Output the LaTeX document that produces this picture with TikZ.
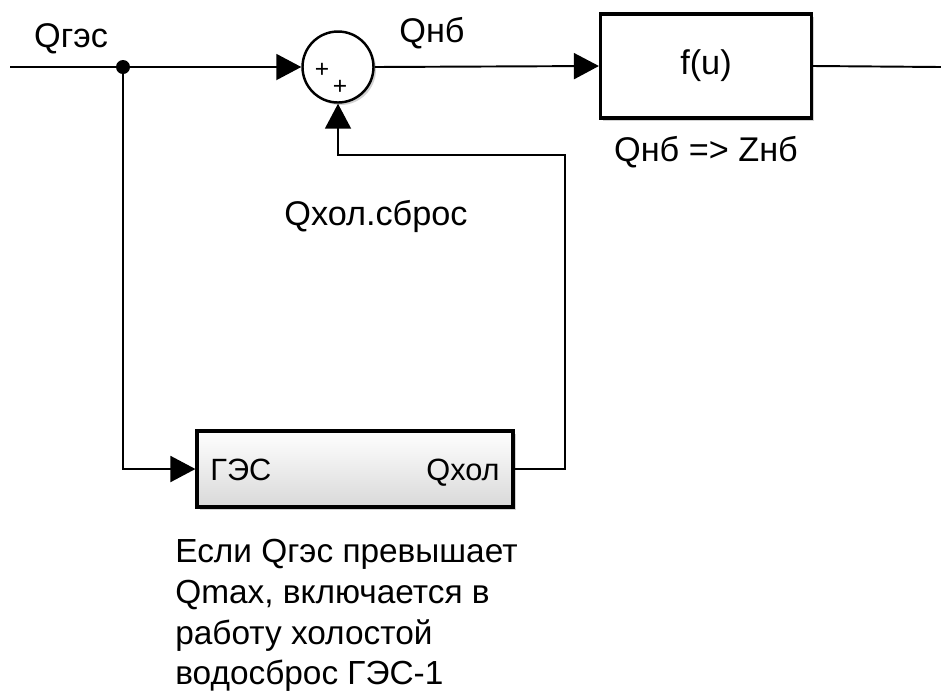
\documentclass[tikz,border=0pt]{standalone}
\usepackage{fontspec}
\setmainfont{Liberation Sans}
\usetikzlibrary{arrows.meta, positioning, shadows, calc}

\begin{document}
\begin{tikzpicture}[x=0.2mm, y=-0.2mm, font=\fontsize{19.5}{23.2}\selectfont,
    sig/.style={line width=1.1pt},
    arrow/.style={sig, -{Triangle[length=5mm, width=5.2mm]}},
    shd/.style={drop shadow={shadow xshift=0.5mm, shadow yshift=-0.5mm, fill=black!35, opacity=0.5}},
    sumop/.style={draw, circle, line width=1.4pt, fill=white, minimum size=14.2mm, inner sep=0pt, shd},
    blk/.style={draw, line width=1.8pt, fill=white, minimum width=42.2mm, minimum height=20.8mm, shd},
    subsys/.style={draw, line width=1.8pt, top color=white, bottom color=black!15, minimum width=63.2mm, minimum height=15.2mm, shd},
    lbl/.style={anchor=base, inner sep=0pt},
    port/.style={inner sep=0pt, font=\fontsize{17.5}{20}\selectfont},
    sgn/.style={font=\fontsize{14}{14}\selectfont, inner sep=0pt}]
    \useasboundingbox (0,0) rectangle (941,693);

    \coordinate (in) at (10,67);
    \coordinate (jn) at (123,67);
    \coordinate (out) at (941,67);
    \node[sumop] (sum) at (338,67) {};
    \node[sgn] (p1) at ($(sum.center)+(-16,3)$) {+};
    \node[sgn] (p2) at ($(sum.center)+(2,20)$) {+};
    \node[blk] (fu) at (706,66) {f(u)};
    \node[subsys] (ges) at (355,469) {};
    \node[port, anchor=base west] (gin) at (210,480) {ГЭС};
    \node[port, anchor=base east] (gout) at (500,480) {Qхол};
    \coordinate (fb) at (565,155);

    \draw[sig] (in) -- (jn);
    \fill (jn) circle[radius=1.4mm];
    \draw[arrow] (jn) -- (sum.west);
    \draw[arrow] (sum.east) -- (fu.west);
    \draw[sig] (fu.east) -- (out);
    \draw[arrow] (jn) |- (ges.west);
    \draw[arrow] (ges.east) -| (fb) -| (sum.south);

    \node[lbl] (qges) at (71,47) {Qгэс};
    \node[lbl] (qnb) at (432,42) {Qнб};
    \node[lbl] (fulbl) at ($(fu.south)+(0,42)$) {Qнб => Zнб};
    \node[lbl] (qhol) at (376,225) {Qхол.сброс};
    \node[align=left, anchor=north west, inner sep=0pt, font=\fontsize{19}{23.2}\selectfont] (note) at (175,539)
        {Если Qгэс превышает\\Qmax, включается в\\работу холостой\\водосброс ГЭС-1};
\end{tikzpicture}
\end{document}
